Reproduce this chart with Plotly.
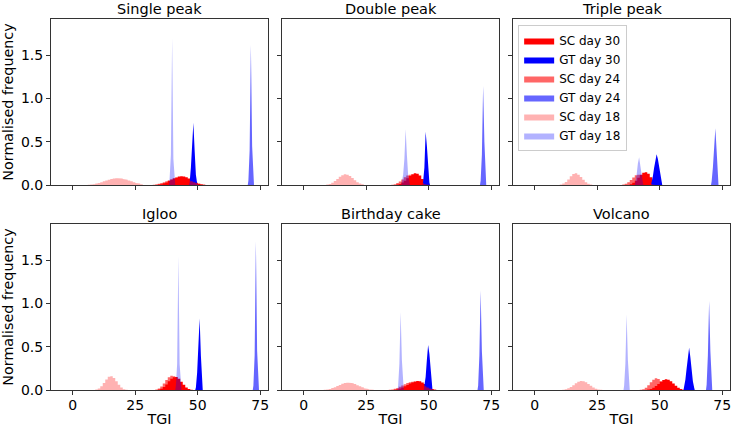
import plotly.graph_objects as go
from plotly.subplots import make_subplots

PANEL_TITLES = ["Single peak", "Double peak", "Triple peak", "Igloo", "Birthday cake", "Volcano"]
SERIES_NAMES = ["SC day 30", "GT day 30", "SC day 24", "GT day 24", "SC day 18", "GT day 18"]
SERIES_COLORS = ["rgba(255,0,0,1)", "rgba(0,0,255,1)", "rgba(255,0,0,0.6)",
                 "rgba(0,0,255,0.6)", "rgba(255,0,0,0.3)", "rgba(0,0,255,0.3)"]
SC_BIN = 1.0   # histogram bin width for SC series (TGI)
GT_BIN = 0.5   # histogram bin width for GT series (TGI)
X_TICKS = [0, 25, 50, 75]
Y_TICKS = [0.0, 0.5, 1.0, 1.5]

# ---- Single peak: first-bin left edge per series (order of SERIES_NAMES), then bin heights
single_starts = [34, 46.5, 32, 70, 6, 38.5]
single_sc30 = [0.005, 0.01, 0.02, 0.03, 0.045, 0.06, 0.075, 0.088, 0.097, 0.10, 0.098, 0.09, 0.075, 0.058, 0.04, 0.025, 0.014, 0.007, 0.003]
single_gt30 = [0.03, 0.2, 0.45, 0.72, 0.4, 0.12, 0.02]
single_sc24 = [0.004, 0.008, 0.014, 0.022, 0.032, 0.044, 0.056, 0.067, 0.077, 0.083, 0.085, 0.083, 0.077, 0.067, 0.056, 0.044, 0.032, 0.022, 0.014, 0.008, 0.004]
single_gt24 = [0.05, 0.4, 1.62, 0.45, 0.06]
single_sc18 = [0.003, 0.006, 0.01, 0.016, 0.024, 0.033, 0.043, 0.053, 0.062, 0.07, 0.076, 0.079, 0.079, 0.076, 0.07, 0.062, 0.053, 0.043, 0.033, 0.024, 0.016, 0.01]
single_gt18 = [0.08, 0.35, 1.7, 0.3, 0.05]

# ---- Double peak
double_starts = [37, 47.5, 35, 70.5, 9, 39]
double_sc30 = [0.005, 0.012, 0.028, 0.05, 0.078, 0.105, 0.125, 0.135, 0.13, 0.11, 0.07, 0.03, 0.008]
double_gt30 = [0.04, 0.2, 0.617, 0.45, 0.15, 0.03]
double_sc24 = [0.004, 0.01, 0.022, 0.04, 0.065, 0.09, 0.11, 0.12, 0.115, 0.095, 0.07, 0.045, 0.024, 0.01, 0.004]
double_gt24 = [0.05, 0.35, 1.146, 0.5, 0.08]
double_sc18 = [0.005, 0.012, 0.025, 0.045, 0.07, 0.095, 0.113, 0.124, 0.12, 0.105, 0.08, 0.055, 0.033, 0.018, 0.008]
double_gt18 = [0.04, 0.12, 0.3, 0.645, 0.35, 0.12, 0.04]

# ---- Triple peak
triple_starts = [38, 46.5, 35, 70.5, 10, 40]
triple_sc30 = [0.01, 0.025, 0.05, 0.085, 0.12, 0.142, 0.147, 0.13, 0.09, 0.045, 0.015]
triple_gt30 = [0.03, 0.1, 0.2, 0.3, 0.355, 0.3, 0.2, 0.11, 0.04]
triple_sc24 = [0.006, 0.015, 0.032, 0.058, 0.088, 0.112, 0.12, 0.11, 0.085, 0.055, 0.03, 0.012, 0.004]
triple_gt24 = [0.04, 0.2, 0.5, 0.656, 0.4, 0.15]
triple_sc18 = [0.006, 0.016, 0.036, 0.065, 0.1, 0.128, 0.135, 0.12, 0.092, 0.06, 0.032, 0.014, 0.005]
triple_gt18 = [0.04, 0.12, 0.25, 0.32, 0.22, 0.1, 0.03]

# ---- Igloo
igloo_starts = [34, 49, 33, 72, 9, 41]
igloo_sc30 = [0.005, 0.015, 0.035, 0.065, 0.1, 0.13, 0.148, 0.15, 0.13, 0.095, 0.06, 0.03, 0.012, 0.004]
igloo_gt30 = [0.03, 0.2, 0.55, 0.826, 0.4, 0.1]
igloo_sc24 = [0.006, 0.018, 0.04, 0.075, 0.115, 0.148, 0.165, 0.158, 0.13, 0.09, 0.055, 0.028, 0.01, 0.003]
igloo_gt24 = [0.05, 0.4, 1.72, 0.45, 0.05]
igloo_sc18 = [0.005, 0.018, 0.042, 0.08, 0.122, 0.152, 0.16, 0.14, 0.1, 0.06, 0.028, 0.01, 0.003]
igloo_gt18 = [0.05, 0.3, 1.55, 0.3, 0.05]

# ---- Birthday cake
cake_starts = [36, 48, 34, 69.5, 8, 37.5]
cake_sc30 = [0.004, 0.009, 0.017, 0.028, 0.042, 0.058, 0.074, 0.088, 0.098, 0.104, 0.1, 0.088, 0.068, 0.045, 0.025, 0.011, 0.004]
cake_gt30 = [0.04, 0.15, 0.35, 0.52, 0.42, 0.2, 0.06]
cake_sc24 = [0.003, 0.007, 0.014, 0.024, 0.037, 0.052, 0.067, 0.08, 0.09, 0.095, 0.094, 0.087, 0.075, 0.06, 0.044, 0.03, 0.018, 0.009, 0.004]
cake_gt24 = [0.05, 0.4, 1.15, 0.45, 0.05]
cake_sc18 = [0.003, 0.007, 0.013, 0.022, 0.033, 0.046, 0.059, 0.071, 0.08, 0.085, 0.084, 0.078, 0.068, 0.056, 0.043, 0.031, 0.02, 0.012, 0.006, 0.003]
cake_gt18 = [0.05, 0.3, 0.9, 0.35, 0.05]

# ---- Volcano
volcano_starts = [45, 59.5, 42, 68.5, 11, 35.5]
volcano_sc30 = [0.005, 0.012, 0.025, 0.045, 0.07, 0.095, 0.115, 0.123, 0.118, 0.1, 0.075, 0.048, 0.026, 0.011, 0.004]
volcano_gt30 = [0.03, 0.12, 0.25, 0.4, 0.49, 0.38, 0.22, 0.1, 0.03]
volcano_sc24 = [0.004, 0.01, 0.025, 0.055, 0.09, 0.12, 0.135, 0.128, 0.1, 0.065, 0.035, 0.014, 0.004]
volcano_gt24 = [0.06, 0.4, 1.03, 0.45, 0.06]
volcano_sc18 = [0.004, 0.01, 0.02, 0.036, 0.056, 0.077, 0.094, 0.104, 0.102, 0.09, 0.07, 0.048, 0.029, 0.015, 0.007, 0.003]
volcano_gt18 = [0.05, 0.3, 0.873, 0.35, 0.05]

PANEL_DATA = [
    (single_starts, [single_sc30, single_gt30, single_sc24, single_gt24, single_sc18, single_gt18]),
    (double_starts, [double_sc30, double_gt30, double_sc24, double_gt24, double_sc18, double_gt18]),
    (triple_starts, [triple_sc30, triple_gt30, triple_sc24, triple_gt24, triple_sc18, triple_gt18]),
    (igloo_starts, [igloo_sc30, igloo_gt30, igloo_sc24, igloo_gt24, igloo_sc18, igloo_gt18]),
    (cake_starts, [cake_sc30, cake_gt30, cake_sc24, cake_gt24, cake_sc18, cake_gt18]),
    (volcano_starts, [volcano_sc30, volcano_gt30, volcano_sc24, volcano_gt24, volcano_sc18, volcano_gt18]),
]

FONT = "DejaVu Sans"

fig = make_subplots(rows=2, cols=3, shared_xaxes=True, shared_yaxes=True,
                    horizontal_spacing=14 / 679, vertical_spacing=39 / 371,
                    subplot_titles=PANEL_TITLES)


def step_polygon(start, width, heights):
    """Stepped outline of a histogram (broad SC distributions)."""
    xs, ys = [start], [0.0]
    for k, h in enumerate(heights):
        xs += [start + k * width, start + (k + 1) * width]
        ys += [h, h]
    xs.append(start + len(heights) * width)
    ys.append(0.0)
    return xs, ys


def spike_polygon(start, width, heights):
    """Outline through bin centres (narrow GT spikes render as thin triangles)."""
    xs = [start] + [start + (k + 0.5) * width for k in range(len(heights))] + [start + len(heights) * width]
    ys = [0.0] + list(heights) + [0.0]
    return xs, ys


for p, (starts, series) in enumerate(PANEL_DATA):
    row, col = p // 3 + 1, p % 3 + 1
    for j, heights in enumerate(series):
        if j % 2 == 0:
            xs, ys = step_polygon(starts[j], SC_BIN, heights)
        else:
            xs, ys = spike_polygon(starts[j], GT_BIN, heights)
        fig.add_trace(go.Scatter(
            x=xs, y=ys, mode="lines", fill="toself",
            fillcolor=SERIES_COLORS[j], line=dict(width=0, color=SERIES_COLORS[j]),
            name=SERIES_NAMES[j], legendgroup=SERIES_NAMES[j],
            showlegend=(p == 0), hoverinfo="skip"), row=row, col=col)

axis_common = dict(showline=True, mirror=True, linecolor="#333333", linewidth=1,
                   ticks="outside", ticklen=4, tickcolor="#333333", showgrid=False,
                   zeroline=False, automargin=False,
                   tickfont=dict(family=FONT, size=14, color="black"))
fig.update_xaxes(range=[-8.7, 78.1], tickvals=X_TICKS, ticklabelstandoff=-2, **axis_common)
fig.update_yaxes(range=[0, 1.92], tickvals=Y_TICKS, tickformat=".1f", **axis_common)

for c in (1, 2, 3):
    fig.update_xaxes(title_text="TGI", title_font=dict(family=FONT, size=14.3, color="black"),
                     title_standoff=2, row=2, col=c)
for r in (1, 2):
    fig.update_yaxes(title_text="Normalised frequency",
                     title_font=dict(family=FONT, size=14.3, color="black"),
                     title_standoff=3, row=r, col=1)

for ann in fig.layout.annotations:
    ann.font = dict(family=FONT, size=14.5, color="black")

fig.update_layout(
    width=732, height=429,
    margin=dict(l=51, r=2, t=19, b=39),
    paper_bgcolor="white", plot_bgcolor="white",
    font=dict(family=FONT, size=14, color="black"),
    legend=dict(x=0.688, y=0.984, xanchor="left", yanchor="top",
                bgcolor="rgba(255,255,255,0.85)", bordercolor="#cccccc", borderwidth=1,
                font=dict(family=FONT, size=12, color="black"),
                itemwidth=30, tracegroupgap=0),
)

fig.write_html("out.html", config={"displayModeBar": False},
               post_script="document.body.style.margin='0';")
